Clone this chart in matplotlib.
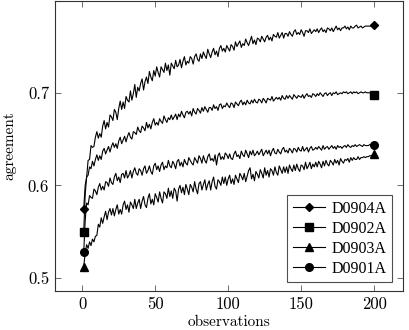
import numpy as np
import matplotlib
matplotlib.use("Agg")
import matplotlib.pyplot as plt

# agreement values, in thousandths (divide by 1000)
observations = list(range(1, 201))

d0904a = [
    575, 600, 609, 627, 628, 643, 641, 642, 652, 658, 651, 656, 652, 664, 670, 661, 668, 663, 676, 674,
    670, 682, 679, 671, 683, 691, 682, 690, 683, 696, 692, 690, 702, 692, 699, 709, 695, 706, 702, 710,
    715, 703, 712, 717, 710, 723, 717, 713, 724, 718, 728, 722, 717, 728, 725, 722, 732, 724, 730, 719,
    732, 729, 726, 735, 728, 730, 736, 727, 734, 739, 730, 734, 732, 739, 737, 731, 739, 742, 736, 734,
    742, 737, 744, 740, 737, 747, 742, 738, 744, 748, 741, 745, 739, 748, 751, 745, 748, 744, 751, 748,
    745, 752, 750, 746, 755, 750, 753, 756, 749, 753, 751, 758, 754, 751, 756, 761, 753, 757, 752, 759,
    758, 755, 761, 758, 755, 760, 762, 757, 760, 756, 763, 761, 760, 765, 759, 762, 765, 759, 764, 764,
    761, 766, 763, 761, 766, 768, 763, 765, 763, 768, 765, 761, 767, 767, 765, 769, 764, 766, 768, 766,
    769, 765, 768, 770, 766, 768, 765, 770, 769, 767, 770, 766, 769, 772, 768, 770, 767, 770, 770, 772,
    769, 771, 768, 772, 770, 770, 772, 773, 770, 771, 772, 770, 771, 772, 772, 772, 772, 772, 773, 773,
]

d0902a = [
    550, 590, 609, 611, 620, 618, 626, 621, 628, 633, 627, 632, 628, 637, 640, 634, 638, 642, 636, 642,
    646, 641, 645, 640, 648, 652, 645, 649, 653, 647, 653, 657, 652, 650, 658, 657, 655, 663, 659, 657,
    664, 662, 659, 668, 662, 666, 661, 668, 672, 665, 668, 665, 672, 669, 667, 675, 671, 668, 673, 671,
    676, 671, 674, 677, 671, 677, 674, 680, 676, 673, 679, 680, 677, 680, 675, 683, 679, 677, 683, 681,
    678, 684, 680, 685, 682, 679, 684, 684, 681, 687, 683, 685, 681, 687, 688, 683, 686, 685, 689, 686,
    684, 689, 688, 684, 690, 688, 686, 690, 692, 687, 690, 687, 692, 689, 688, 692, 689, 693, 690, 689,
    693, 692, 689, 694, 692, 689, 694, 693, 692, 696, 691, 693, 695, 693, 695, 692, 697, 694, 693, 697,
    694, 697, 695, 693, 698, 696, 694, 697, 696, 695, 698, 694, 697, 699, 696, 697, 695, 699, 698, 696,
    699, 697, 700, 698, 696, 699, 700, 697, 699, 700, 697, 700, 699, 701, 698, 699, 700, 699, 701, 700,
    701, 699, 700, 701, 699, 701, 700, 701, 699, 700, 701, 700, 700, 701, 700, 700, 700, 699, 699, 698,
]

d0903a = [
    512, 527, 536, 532, 539, 535, 542, 539, 545, 546, 558, 555, 565, 559, 566, 572, 563, 571, 575, 568,
    575, 567, 574, 579, 569, 574, 569, 579, 583, 574, 579, 571, 582, 579, 575, 585, 575, 581, 585, 575,
    583, 588, 579, 576, 586, 591, 580, 585, 579, 591, 587, 582, 593, 586, 581, 593, 591, 586, 597, 588,
    594, 586, 597, 594, 583, 596, 600, 592, 598, 590, 601, 596, 590, 601, 598, 593, 604, 596, 591, 602,
    604, 595, 601, 606, 595, 601, 605, 595, 604, 609, 599, 596, 606, 604, 600, 609, 602, 609, 600, 607,
    611, 602, 607, 601, 611, 607, 603, 613, 610, 606, 613, 604, 610, 616, 619, 607, 612, 605, 615, 612,
    608, 617, 613, 608, 619, 611, 616, 609, 618, 616, 611, 620, 614, 611, 621, 617, 613, 620, 614, 620,
    613, 622, 618, 615, 622, 616, 623, 618, 615, 622, 621, 617, 625, 618, 621, 625, 618, 623, 620, 625,
    620, 626, 623, 619, 626, 621, 627, 623, 621, 627, 625, 622, 628, 624, 627, 622, 629, 626, 624, 628,
    627, 629, 625, 630, 627, 630, 628, 628, 631, 628, 630, 630, 631, 630, 631, 631, 632, 632, 633, 634,
]

d0901a = [
    528, 562, 581, 579, 589, 587, 586, 596, 594, 590, 598, 602, 595, 599, 595, 604, 603, 599, 608, 603,
    601, 609, 613, 605, 609, 603, 612, 613, 608, 616, 608, 611, 616, 608, 615, 619, 613, 611, 618, 616,
    611, 618, 621, 613, 616, 621, 615, 612, 621, 624, 617, 621, 615, 622, 625, 617, 621, 619, 627, 621,
    619, 626, 623, 618, 626, 628, 621, 625, 620, 628, 624, 622, 630, 627, 624, 622, 630, 627, 624, 632,
    629, 624, 632, 627, 624, 631, 634, 627, 629, 626, 633, 622, 632, 635, 628, 631, 628, 635, 633, 629,
    634, 629, 628, 634, 637, 631, 633, 629, 637, 633, 631, 638, 634, 630, 637, 633, 638, 632, 634, 637,
    633, 636, 639, 632, 635, 638, 634, 638, 632, 637, 640, 635, 634, 639, 636, 634, 639, 641, 636, 638,
    635, 640, 638, 635, 640, 639, 636, 641, 638, 637, 642, 637, 639, 641, 636, 640, 642, 638, 639, 641,
    639, 642, 640, 638, 643, 639, 641, 642, 639, 641, 643, 640, 642, 639, 643, 641, 642, 640, 642, 643,
    641, 644, 642, 641, 643, 642, 644, 642, 643, 644, 643, 642, 644, 643, 643, 643, 644, 644, 644, 644,
]

series_names = ["D0904A", "D0902A", "D0903A", "D0901A"]
series_values = [d0904a, d0902a, d0903a, d0901a]
series_markers = ["D", "s", "^", "o"]
series_msizes = [4.2, 5.5, 5.2, 5.5]

x_ticks = [0, 50, 100, 150, 200]
y_ticks = [0.5, 0.6, 0.7]

plt.rcParams["axes.formatter.use_mathtext"] = True
plt.rcParams["font.family"] = ["cmr10"]

fig = plt.figure(figsize=(4.09, 3.30), dpi=100)
ax = fig.add_axes([0.1337, 0.118, 0.852, 0.879])

for name, vals, mk, ms in zip(series_names, series_values, series_markers, series_msizes):
    assert len(vals) == len(observations)
    y = np.array(vals) / 1000.0
    ax.plot(observations, y, color="black", lw=0.8, marker=mk, markersize=ms,
            markevery=[0, len(vals) - 1], markerfacecolor="black",
            markeredgecolor="black", label=name)

xmin, xmax = min(observations), max(observations)
allv = [v / 1000.0 for s in series_values for v in s]
ymin, ymax = min(allv), max(allv)
ax.set_xlim(xmin - 0.1 * (xmax - xmin), xmax + 0.1 * (xmax - xmin))
ax.set_ylim(ymin - 0.1 * (ymax - ymin), ymax + 0.1 * (ymax - ymin))

ax.set_xticks(x_ticks)
ax.set_yticks(y_ticks)
ax.set_xticklabels([str(t) for t in x_ticks])
ax.set_yticklabels([f"{t:.1f}" for t in y_ticks])
ax.tick_params(direction="in", length=4, width=0.6, top=True, right=True,
               labelsize=12, pad=4, colors="#555555", labelcolor="black")
for sp in ax.spines.values():
    sp.set_linewidth(0.8)
    sp.set_color("#333333")

ax.set_xlabel("observations", fontsize=11, labelpad=2.5)
ax.set_ylabel("agreement", fontsize=11, labelpad=8)

leg = ax.legend(loc="lower right", bbox_to_anchor=(0.968, 0.03),
                prop={"family": "Liberation Serif", "size": 11.5},
                frameon=True, fancybox=False, edgecolor="#222222",
                handlelength=2.0, handletextpad=0.4, borderpad=0.35,
                labelspacing=0.25, borderaxespad=0.0)
leg.get_frame().set_linewidth(0.8)

fig.savefig("out.png", dpi=100)
